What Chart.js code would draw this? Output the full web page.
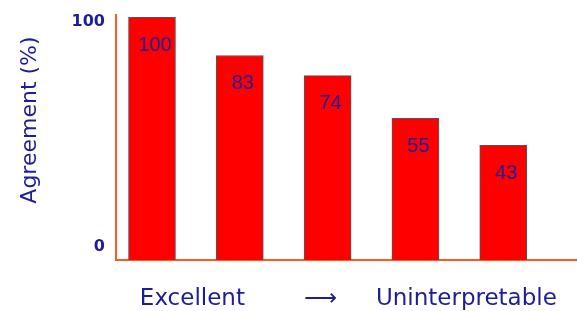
<!DOCTYPE html>
<html>
<head>
<meta charset="utf-8">
<script src="https://cdn.jsdelivr.net/npm/chart.js@4"></script>
<style>
html,body{margin:0;padding:0;background:#fff;}
#wrap{width:577px;height:311px;}
</style>
</head>
<body>
<div id="wrap"><canvas id="c" width="577" height="311"></canvas></div>
<script>
// Data
const categories = [0, 1, 2, 3, 4];
const agreement = [100, 83, 74, 55, 43];
const yTickValues = [0, 100];
const xTickValues = [0.46, 1.92, 3.58];
const xTickLabels = ['Excellent', '\u27F6', 'Uninterpretable'];
const yTitle = 'Agreement (%)';

const BLUE = '#1d1d9a';
const ORANGE = '#ff5a24';

const valueLabels = {
  id: 'valueLabels',
  afterDatasetsDraw(chart) {
    const ctx = chart.ctx;
    const meta = chart.getDatasetMeta(0);
    ctx.save();
    ctx.font = '20px "Liberation Sans", Arial, sans-serif';
    ctx.fillStyle = BLUE;
    ctx.textAlign = 'center';
    ctx.textBaseline = 'middle';
    meta.data.forEach((bar, i) => {
      ctx.fillText(String(agreement[i]), bar.x + 3, bar.y + 28);
    });
    ctx.restore();
  }
};

new Chart(document.getElementById('c'), {
  type: 'bar',
  data: {
    datasets: [{
      data: categories.map((c, i) => ({x: c, y: agreement[i]})),
      backgroundColor: '#ff0000',
      borderColor: '#555555',
      borderWidth: 1,
      borderSkipped: 'bottom',
      barThickness: 47,
      base: -8
    }]
  },
  options: {
    responsive: false,
    animation: false,
    layout: {padding: {top: 15, left: 0, right: 0, bottom: 0}},
    plugins: {legend: {display: false}, tooltip: {enabled: false}},
    scales: {
      x: {
        type: 'linear',
        min: -0.41,
        max: 4.84,
        offset: false,
        bounds: 'data',
        grid: {display: false, offset: false},
        border: {display: true, color: ORANGE, width: 2},
        afterBuildTicks(scale) { scale.ticks = xTickValues.map(v => ({value: v})); },
        afterFit(scale) { scale.height = 51; },
        ticks: {
          padding: 17,
          autoSkip: false,
          maxRotation: 0,
          color: BLUE,
          font: {family: '"DejaVu Sans", sans-serif', size: 23},
          callback: (v, i) => xTickLabels[i]
        }
      },
      y: {
        min: -8,
        max: 101,
        grid: {display: false},
        border: {display: true, color: ORANGE, width: 2},
        afterBuildTicks(scale) { scale.ticks = yTickValues.map(v => ({value: v})); },
        afterFit(scale) { scale.width = 116; },
        ticks: {
          padding: 3,
          labelOffset: 5,
          color: BLUE,
          font: {family: '"DejaVu Sans", sans-serif', size: 16, weight: 'bold'},
          callback: v => String(v)
        },
        title: {
          display: true,
          text: '\u00A0\u00A0\u00A0\u00A0\u00A0' + yTitle,
          color: BLUE,
          padding: {top: 17, bottom: 0},
          font: {family: '"DejaVu Sans", sans-serif', size: 22}
        }
      }
    }
  },
  plugins: [valueLabels]
});
</script>
</body>
</html>
